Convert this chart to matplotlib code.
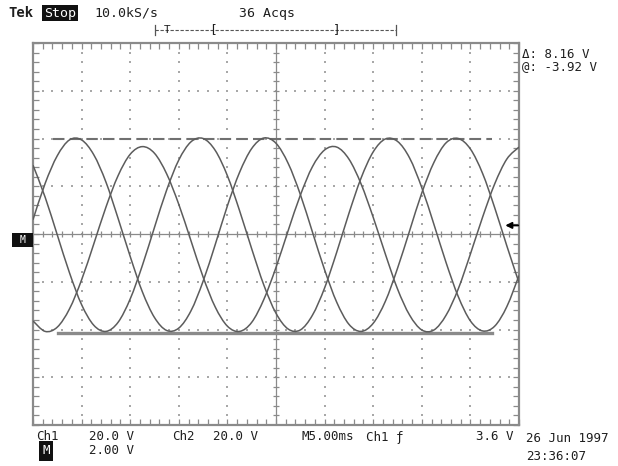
import numpy as np
import matplotlib
matplotlib.use("Agg")
import matplotlib.pyplot as plt
from matplotlib.lines import Line2D
from matplotlib.patches import Rectangle, PathPatch
from matplotlib.path import Path

# ---------------- data (read from the screen) ----------------
# sample times in ms (5.00 ms/div, screen spans -25 .. +25 ms)
time_ms = [-25.0, -23.75, -22.5, -21.25, -20.0, -18.75, -17.5, -16.25, -15.0, -13.75,
           -12.5, -11.25, -10.0, -8.75, -7.5, -6.25, -5.0, -3.75, -2.5, -1.25,
           0.0, 1.25, 2.5, 3.75, 5.0, 6.25, 7.5, 8.75, 10.0, 11.25,
           12.5, 13.75, 15.0, 16.25, 17.5, 18.75, 20.0, 21.25, 22.5, 23.75, 25.0]

# trace levels in screen divisions
phase_a = [0.30, 1.06, 1.64, 1.97, 1.97, 1.66, 1.09, 0.33, -0.47, -1.21,
           -1.75, -2.02, -1.97, -1.61, -0.99, -0.22, 0.59, 1.29, 1.79, 2.01,
           1.90, 1.48, 0.83, 0.04, -0.75, -1.43, -1.89, -2.04, -1.87, -1.41,
           -0.72, 0.07, 0.86, 1.50, 1.91, 2.00, 1.78, 1.27, 0.55, -0.25, -1.02]
phase_b = [-1.82, -2.04, -1.95, -1.57, -0.96, -0.21, 0.56, 1.22, 1.67, 1.83,
           1.69, 1.26, 0.62, -0.14, -0.90, -1.53, -1.93, -2.04, -1.85, -1.37,
           -0.70, 0.07, 0.81, 1.41, 1.76, 1.82, 1.57, 1.05, 0.35, -0.42,
           -1.15, -1.70, -2.01, -2.01, -1.70, -1.15, -0.42, 0.35, 1.05, 1.57, 1.82]
phase_c = [1.44, 0.77, -0.02, -0.81, -1.48, -1.91, -2.04, -1.85, -1.36, -0.66,
           0.14, 0.92, 1.55, 1.93, 2.00, 1.75, 1.22, 0.49, -0.31, -1.07,
           -1.66, -1.99, -2.01, -1.70, -1.13, -0.38, 0.43, 1.17, 1.72, 1.99,
           1.94, 1.59, 0.97, 0.20, -0.60, -1.31, -1.82, -2.03, -1.93, -1.52, -0.87]

cursor_levels = [2.00, -2.07]          # dashed (upper) and solid (lower) cursor, divisions
trigger_level_v = 3.6
ch1_volts_per_div = 20.0

header_texts = ["Tek", "Stop", "10.0kS/s", "36 Acqs"]
cursor_texts = ["\u0394: 8.16 V", "@: -3.92 V"]
footer_row1 = ["Ch1", "20.0 V", "Ch2", "20.0 V", "M5.00ms", "Ch1 \u0192", "3.6 V"]
footer_row2 = ["M", "2.00 V"]
date_texts = ["26 Jun 1997", "23:36:07"]

# ---------------- figure ----------------
W, H = 618, 466
fig = plt.figure(figsize=(W / 100, H / 100), dpi=100)
fig.patch.set_facecolor("white")

def fx(px):
    return px / W

def fy(py):
    return 1 - py / H

ax = fig.add_axes([fx(33), fy(425), (519 - 33) / W, (425 - 43) / H])
ax.set_xlim(-25, 25)
ax.set_ylim(-4, 4)
ax.set_facecolor("white")

frame_col = "#8a8a8a"
for s in ax.spines.values():
    s.set_color(frame_col)
    s.set_linewidth(1.6)

ax.set_xticks(np.arange(-25, 25.1, 5))
ax.set_yticks(np.arange(-4, 4.1, 1))
ax.set_xticks(np.arange(-25, 25.1, 1), minor=True)
ax.set_yticks(np.arange(-4, 4.1, 0.2), minor=True)
ax.tick_params(which="both", direction="in", top=True, right=True, bottom=True, left=True,
               length=4, width=0.9, color=frame_col,
               labelbottom=False, labelleft=False)

# dotted graticule
grid_col = "#a8a8a8"
gx, gy = [], []
for xv in np.arange(-20, 20.1, 5):
    if abs(xv) < 1e-9:
        continue
    ys = np.arange(-3.8, 3.81, 0.2)
    gx += [xv] * len(ys)
    gy += list(ys)
for yv in np.arange(-3, 3.1, 1):
    if abs(yv) < 1e-9:
        continue
    xs = np.arange(-24, 24.1, 1)
    gx += list(xs)
    gy += [yv] * len(xs)
ax.scatter(gx, gy, s=1.3, marker="s", color=grid_col, linewidths=0, zorder=1)

# centre cross with minor ticks
center_col = "#8a8a8a"
ax.axhline(0, color=center_col, lw=0.9, zorder=1)
ax.axvline(0, color=center_col, lw=0.9, zorder=1)
ax.plot(np.arange(-24, 24.1, 1), np.zeros(49), ls="none", marker="|", ms=5,
        mew=0.9, color=center_col, zorder=1)
ax.plot(np.zeros(39), np.arange(-3.8, 3.81, 0.2), ls="none", marker="_", ms=5,
        mew=0.9, color=center_col, zorder=1)

# traces: smooth curve drawn through the read samples (Catmull-Rom as Bezier path)
def smooth_path(xs, ys):
    pts = np.column_stack([xs, ys]).astype(float)
    n = len(pts)
    verts = [pts[0]]
    codes = [Path.MOVETO]
    for i in range(n - 1):
        p0 = pts[i - 1] if i > 0 else pts[i]
        p1 = pts[i]
        p2 = pts[i + 1]
        p3 = pts[i + 2] if i + 2 < n else pts[i + 1]
        c1 = p1 + (p2 - p0) / 6.0
        c2 = p2 - (p3 - p1) / 6.0
        verts += [c1, c2, p2]
        codes += [Path.CURVE4] * 3
    return Path(verts, codes)

trace_col = "#5c5c5c"
for series in (phase_a, phase_b, phase_c):
    ax.add_patch(PathPatch(smooth_path(time_ms, series), fc="none", ec=trace_col,
                           lw=1.1, zorder=3, clip_on=True))

# cursors
ax.plot([-22.9, 22.2], [cursor_levels[0]] * 2, color="#707070", lw=1.5,
        ls=(0, (5.5, 2.5)), zorder=2)
ax.plot([-22.4, 22.2], [cursor_levels[1]] * 2, color="#8a8a8a", lw=2.4, zorder=2)

# trigger level arrow on right edge
trig_div = trigger_level_v / ch1_volts_per_div
ax.annotate("", xy=(23.3, trig_div), xytext=(25.2, trig_div),
            arrowprops=dict(arrowstyle="-|>", color="black", lw=1.4, mutation_scale=9),
            annotation_clip=False, zorder=5)

# ---------------- texts ----------------
mono = "DejaVu Sans Mono"
tcol = "#1e1e1e"
fs = 9

def ftext(x, y, s, **kw):
    kw.setdefault("fontsize", fs)
    kw.setdefault("color", tcol)
    kw.setdefault("family", mono)
    kw.setdefault("va", "center")
    kw.setdefault("ha", "left")
    return fig.text(fx(x), fy(y), s, **kw)

ftext(8, 13, header_texts[0], fontweight="bold", fontsize=10)
ftext(44, 13, header_texts[1], color="white", fontsize=9.5,
      bbox=dict(boxstyle="square,pad=0.15", fc="#111111", ec="none"))
ftext(94, 13, header_texts[2], fontsize=9.5)
ftext(239, 13, header_texts[3], fontsize=9.5)

# record-length bar
bar_y = 30
fig.add_artist(Line2D([fx(155), fx(396)], [fy(bar_y), fy(bar_y)], color="#555555",
                      lw=0.8, ls=(0, (3, 1.5))))
for xb in (155, 396):
    fig.add_artist(Line2D([fx(xb), fx(xb)], [fy(bar_y - 5), fy(bar_y + 5)],
                          color="#555555", lw=0.9))
ftext(166.7, bar_y, "T", ha="center", fontsize=8)
ftext(213, bar_y, "[", ha="center", fontsize=9)
ftext(337, bar_y, "]", ha="center", fontsize=9)

# cursor readouts
ftext(522, 54, cursor_texts[0])
ftext(522, 67, cursor_texts[1])

# left reference marker
fig.add_artist(Rectangle((fx(12), fy(247)), (33 - 12) / W, 14 / H, fc="#111111", ec="none"))
ftext(22.5, 240, "M", color="white", ha="center", fontsize=7)

# bottom readouts
row1_x = [36, 89, 172, 213, 301, 366, 476]
for x, s in zip(row1_x, footer_row1):
    ftext(x, 437, s)
ftext(46, 451, footer_row2[0], color="white", ha="center",
      bbox=dict(boxstyle="square,pad=0.25", fc="#111111", ec="none"))
ftext(89, 451, footer_row2[1])
ftext(526, 439, date_texts[0])
ftext(526, 457, date_texts[1])

fig.savefig("out.png", dpi=100, facecolor="white")
